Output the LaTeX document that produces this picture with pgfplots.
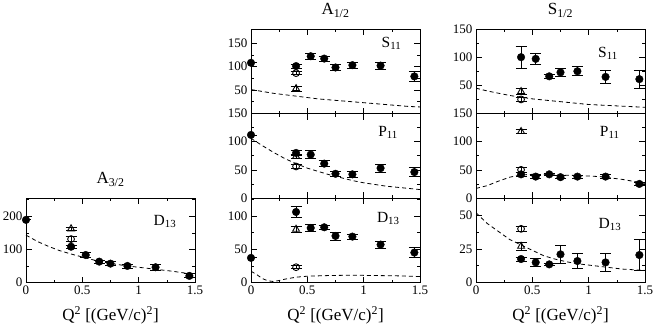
\documentclass[border=0pt]{standalone}
\usepackage{fontspec}
\setmainfont{Liberation Serif}
\usepackage{pgfplots}
\pgfplotsset{compat=1.18}

\pgfplotsset{
  panel/.style={
    scale only axis, width=169pt, height=84.5pt,
    xmin=0, xmax=1.5, xtick={0,0.5,1,1.5}, minor xtick={0.25,0.75,1.25},
    tick align=inside, tick pos=both,
    major tick length=6pt, minor tick length=3pt,
    every tick/.style={black, line width=0.6pt},
    axis line style={line width=0.8pt},
    tick label style={font=\fontsize{13}{15}\selectfont},
    /pgf/number format/assume math mode=true,
    title style={font=\fontsize{17}{19}\selectfont, yshift=2pt},
    xlabel style={font=\fontsize{17}{19}\selectfont, yshift=-5pt},
    xlabel={Q\textsuperscript{2} [(GeV/c)\textsuperscript{2}]},
  },
  notx/.style={xticklabels=\empty, xlabel={}},
  theory/.style={black, line width=0.8pt, dash pattern=on 4pt off 3pt, no markers},
  ebar/.style={error bars/.cd, y dir=both, y explicit,
    error bar style={line width=0.8pt},
    error mark options={rotate=90, mark size=5.5pt, line width=0.8pt}},
  full/.style={black, only marks, mark=*, mark size=3.8pt, ebar},
  hollow/.style={black, only marks, mark=o, mark size=3.4pt,
    mark options={fill=white, line width=0.9pt}, ebar},
  tri/.style={black, only marks, mark=triangle, mark size=4pt,
    mark options={fill=white, line width=0.9pt}, ebar},
}
\tikzset{lab/.style={anchor=base east, font=\fontsize{15.5}{17}\selectfont}}

\begin{document}
\begin{tikzpicture}
\useasboundingbox (0,0) rectangle (654pt,-325pt);

% A_{3/2}, D13
\begin{axis}[panel, at={(26pt,-198pt)}, anchor=north west,
  ymin=0, ymax=255, ytick={0,100,200}, minor ytick={50,150,250},
  title={A\textsubscript{3/2}}]
\addplot[theory] coordinates {(0,143) (0.1,124) (0.2,109) (0.3,96) (0.4,86) (0.5,77) (0.6,68) (0.7,61) (0.8,55) (0.9,50) (1.0,46) (1.1,42) (1.2,38) (1.3,34) (1.4,29) (1.5,25)};
\addplot[tri] coordinates {(0.4,162) +- (0,4)};
\addplot[hollow] coordinates {(0.4,131) +- (0,8)};
\addplot[full] coordinates {(0,189) +- (0,0) (0.4,108) +- (0,4) (0.53,83) +- (0,8) (0.65,63) +- (0,4) (0.75,57) +- (0,6) (0.9,50) +- (0,6) (1.15,46) +- (0,8) (1.45,20) +- (0,6)};
\node[lab] at (rel axis cs:0.91,0.68) {D\textsubscript{13}};
\end{axis}

% A_{1/2}, S11
\begin{axis}[panel, notx, at={(251pt,-29pt)}, anchor=north west,
  ymin=0, ymax=180, ytick={0,50,100,150}, yticklabels={,50,100,150}, minor y tick num=1,
  title={A\textsubscript{1/2}}]
\addplot[theory] coordinates {(0,51) (0.1,47) (0.2,43) (0.3,40) (0.4,37) (0.5,34) (0.6,31) (0.7,29) (0.8,27) (0.9,25) (1.0,23) (1.1,21) (1.2,19) (1.3,17) (1.4,15) (1.5,14)};
\addplot[tri] coordinates {(0.4,53) +- (0,5)};
\addplot[hollow] coordinates {(0.4,86) +- (0,3)};
\addplot[full] coordinates {(0,108) +- (0,0) (0.4,101) +- (0,4) (0.53,122) +- (0,6) (0.65,117) +- (0,5) (0.75,98) +- (0,7) (0.9,103) +- (0,6) (1.15,102) +- (0,7) (1.45,79) +- (0,10)};
\node[lab] at (rel axis cs:0.91,0.78) {S\textsubscript{11}};
\end{axis}

% A_{1/2}, P11
\begin{axis}[panel, notx, at={(251pt,-113.5pt)}, anchor=north west,
  ymin=0, ymax=150, ytick={0,50,100,150}, minor y tick num=1]
\addplot[theory] coordinates {(0,106) (0.1,93) (0.2,81) (0.3,70) (0.4,61) (0.5,53) (0.6,47) (0.7,41) (0.8,36) (0.9,31) (1.0,27) (1.1,24) (1.2,21) (1.3,19) (1.4,17) (1.5,15)};
\addplot[tri] coordinates {(0.4,74) +- (0,4)};
\addplot[hollow] coordinates {(0.4,56) +- (0,3)};
\addplot[full] coordinates {(0,112) +- (0,0) (0.4,80) +- (0,4) (0.53,77) +- (0,7) (0.65,61) +- (0,5) (0.75,43) +- (0,5) (0.9,42) +- (0,5) (1.15,53) +- (0,7) (1.45,46) +- (0,8)};
\node[lab] at (rel axis cs:0.89,0.73) {P\textsubscript{11}};
\end{axis}

% A_{1/2}, D13
\begin{axis}[panel, at={(251pt,-198pt)}, anchor=north west,
  ymin=0, ymax=127, ytick={0,50,100}, minor ytick={25,75,125}]
\addplot[theory] coordinates {(0,17) (0.05,12) (0.1,6) (0.15,2.5) (0.2,1.5) (0.25,3) (0.3,5) (0.4,8) (0.5,9.5) (0.7,10.5) (0.9,11) (1.1,10.5) (1.3,10) (1.5,9)};
\addplot[tri] coordinates {(0.4,80) +- (0,4)};
\addplot[hollow] coordinates {(0.4,23) +- (0,2)};
\addplot[full] coordinates {(0,37) +- (0,0) (0.4,106) +- (0,8) (0.53,82) +- (0,5) (0.65,83) +- (0,3) (0.75,70) +- (0,6) (0.9,69) +- (0,4) (1.15,57) +- (0,5) (1.45,45) +- (0,8)};
\node[lab] at (rel axis cs:0.90,0.71) {D\textsubscript{13}};
\end{axis}

% S_{1/2}, S11
\begin{axis}[panel, notx, at={(476pt,-29pt)}, anchor=north west,
  ymin=0, ymax=150, ytick={0,50,100,150}, yticklabels={,50,100,150}, minor y tick num=1,
  title={S\textsubscript{1/2}}]
\addplot[theory] coordinates {(0,45) (0.1,40) (0.2,36) (0.3,32) (0.4,29) (0.5,26) (0.6,24) (0.7,22) (0.8,20) (0.9,18) (1.0,16) (1.1,15) (1.2,14) (1.3,13) (1.4,12) (1.5,11)};
\addplot[tri] coordinates {(0.4,39) +- (0,5)};
\addplot[hollow] coordinates {(0.4,25) +- (0,3)};
\addplot[full] coordinates {(0.4,100) +- (0,20) (0.53,97) +- (0,10) (0.65,66) +- (0,3) (0.75,73) +- (0,7) (0.9,75) +- (0,8) (1.15,65) +- (0,12) (1.45,61) +- (0,16)};
\node[lab] at (rel axis cs:0.86,0.66) {S\textsubscript{11}};
\end{axis}

% S_{1/2}, P11
\begin{axis}[panel, notx, at={(476pt,-113.5pt)}, anchor=north west,
  ymin=0, ymax=150, ytick={0,50,100,150}, minor y tick num=1]
\addplot[theory] coordinates {(0,17) (0.1,22) (0.2,30) (0.3,37) (0.4,41) (0.5,42) (0.7,41) (0.9,40) (1.1,38) (1.3,33) (1.5,26)};
\addplot[tri] coordinates {(0.4,118) +- (0,4)};
\addplot[hollow] coordinates {(0.4,50) +- (0,4)};
\addplot[full] coordinates {(0.4,42) +- (0,3) (0.53,38) +- (0,3) (0.65,42) +- (0,2) (0.75,37) +- (0,3) (0.9,38) +- (0,3) (1.15,38) +- (0,4) (1.45,25) +- (0,3)};
\node[lab] at (rel axis cs:0.87,0.73) {P\textsubscript{11}};
\end{axis}

% S_{1/2}, D13
\begin{axis}[panel, at={(476pt,-198pt)}, anchor=north west,
  ymin=0, ymax=63, ytick={0,25,50}, minor ytick={12.5,37.5}]
\addplot[theory] coordinates {(0,52) (0.1,44) (0.2,38) (0.3,32) (0.4,28) (0.5,24) (0.6,20) (0.7,17.5) (0.8,15.5) (0.9,14) (1.0,13) (1.1,12) (1.2,11) (1.3,10) (1.4,9.5) (1.5,9)};
\addplot[tri] coordinates {(0.4,27) +- (0,3)};
\addplot[hollow] coordinates {(0.4,40) +- (0,2)};
\addplot[full] coordinates {(0.4,17.5) +- (0,1.5) (0.53,15) +- (0,3) (0.65,13.5) +- (0,1) (0.75,21) +- (0,7) (0.9,16) +- (0,5.5) (1.15,15) +- (0,7) (1.45,20.5) +- (0,11.5)};
\node[lab] at (rel axis cs:0.88,0.64) {D\textsubscript{13}};
\end{axis}
\end{tikzpicture}
\end{document}
